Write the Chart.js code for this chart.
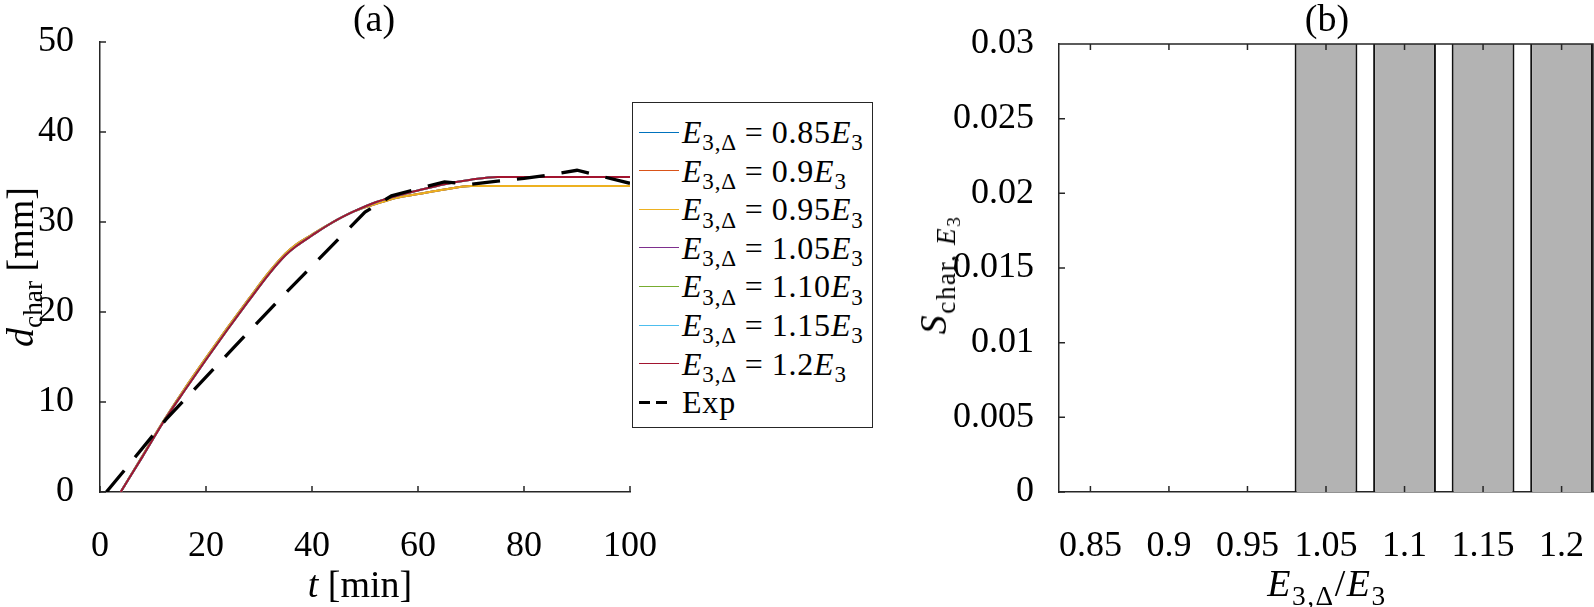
<!DOCTYPE html>
<html>
<head>
<meta charset="utf-8">
<title>Char depth and sensitivity</title>
<script src="https://cdn.jsdelivr.net/npm/chart.js@4.4.1/dist/chart.umd.min.js"></script>
<style>
  html, body { margin: 0; padding: 0; background: #fff; }
  body { width: 1594px; height: 607px; position: relative; overflow: hidden; font-family: "Liberation Serif", "Times New Roman", serif; color: #000; }
  .box { position: absolute; top: 0; height: 607px; }
  .lbl { position: absolute; white-space: nowrap; font-size: 38px; line-height: 1; transform: translate(-50%, -50%); }
  .rot { transform: translate(-50%, -50%) rotate(-90deg); }
  .wide { letter-spacing: 1.5px; }
  .s1 { font-size: 0.72em; position: relative; top: 0.32em; }
  .s2 { font-size: 0.72em; position: relative; top: 0.25em; }
  .eq { margin: 0 8px; }
  #legend { position: absolute; left: 632px; top: 102px; width: 241px; height: 326px; border: 1.5px solid #262626; background: #fff; box-sizing: border-box; }
  .row { position: absolute; left: 0; font-size: 32px; line-height: 1; letter-spacing: 0.8px; white-space: nowrap; transform: translateY(-50%); display: flex; align-items: center; }
  .swatch { display: inline-block; width: 40px; height: 0; margin: 0 3px 0 6px; }
  .dash { display: inline-block; width: 11px; height: 3px; background: #000; margin-right: 6px; }
</style>
</head>
<body>
<div class="box" style="left:0;width:660px;"><canvas id="chart-a" width="660" height="607"></canvas></div>
<div class="box" style="left:880px;width:714px;"><canvas id="chart-b" width="714" height="607"></canvas></div>

<div class="lbl" style="left:374px;top:18px;">(a)</div>
<div class="lbl" style="left:1327px;top:18px;">(b)</div>
<div class="lbl" style="left:360px;top:584px;"><i>t</i>&nbsp;[min]</div>
<div class="lbl wide" style="left:1327px;top:583px;"><i>E</i><span class="s1">3,Δ</span>/<i>E</i><span class="s1">3</span></div>
<div class="lbl rot" style="left:20px;top:267px;"><i>d</i><span class="s1">char</span>&nbsp;[mm]</div>
<div class="lbl rot wide" style="left:933px;top:275px;"><i>S</i><span class="s1">char,&nbsp;<i>E</i><span class="s2">3</span></span></div>
<div id="legend"></div>

<script>
// panel (a): simulated char depth, the two groups of runs overlap almost exactly
var tSim = [3.9, 8, 12, 16, 20, 24, 28, 32, 35, 37, 40, 44, 48, 52, 56, 60, 65, 70, 75, 100];
var dLow = [0, 4.0, 7.9, 11.5, 14.9, 18.2, 21.4, 24.5, 26.5, 27.5, 28.6, 30.0, 31.2, 32.0, 32.7, 33.1, 33.6, 34.0, 34.0, 34.0];
var dHigh = [0, 3.9, 7.8, 11.3, 14.7, 18.0, 21.2, 24.3, 26.3, 27.3, 28.5, 30.0, 31.2, 32.2, 32.9, 33.5, 34.2, 34.7, 35.0, 35.0];

// panel (a): experiment
var tExp = [1.2, 5, 12.5, 25, 35, 45, 50, 55, 60, 65, 70, 75, 80, 85, 90, 100];
var dExp = [0, 2.7, 8.1, 15.9, 22.1, 28.1, 31.1, 32.9, 33.7, 34.45, 34.2, 34.55, 34.85, 35.25, 35.75, 34.3];

var factorLabels = ["0.85", "0.9", "0.95", "1.05", "1.10", "1.15", "1.2"];
var factorColors = ["#0072BD", "#D95319", "#EDB120", "#7E2F8E", "#77AC30", "#4DBEEE", "#A2142F"];
var factorCurves = [dLow, dLow, dLow, dHigh, dHigh, dHigh, dHigh];

// panel (b): sensitivity per factor (upper four run past the 0.03 limit)
var ratioLabels = ["0.85", "0.9", "0.95", "1.05", "1.1", "1.15", "1.2"];
var sensValues = [0, 0, 0, 0.04, 0.04, 0.04, 0.04];
var sensTicks = [0, 0.005, 0.01, 0.015, 0.02, 0.025, 0.03];

var AXIS = "#262626";
var tickFont = { family: "'Liberation Serif', 'Times New Roman', serif", size: 36, lineHeight: 1 };

function toPoints(xs, ys) {
  return xs.map(function (x, i) { return { x: x, y: ys[i] }; });
}

// MATLAB style ticks pointing inside, optional closed box
var innerTicks = {
  id: "innerTicks",
  afterDraw: function (chart, args, opts) {
    var ctx = chart.ctx, a = chart.chartArea, len = 6;
    var xs = chart.scales.x, ys = chart.scales.y;
    ctx.save();
    ctx.strokeStyle = AXIS;
    ctx.lineWidth = 1.5;
    ctx.beginPath();
    xs.ticks.forEach(function (t) {
      var px = xs.getPixelForValue(t.value);
      ctx.moveTo(px, a.bottom); ctx.lineTo(px, a.bottom - len);
      if (opts.box) { ctx.moveTo(px, a.top); ctx.lineTo(px, a.top + len); }
    });
    ys.ticks.forEach(function (t) {
      var py = ys.getPixelForValue(t.value);
      ctx.moveTo(a.left, py); ctx.lineTo(a.left + len, py);
    });
    if (opts.box) {
      ctx.moveTo(a.left, a.top); ctx.lineTo(a.right, a.top); ctx.lineTo(a.right, a.bottom);
    }
    ctx.stroke();
    ctx.restore();
  }
};

function fitX(h) {
  return function (scale) { scale.height = h; scale.paddingLeft = 0; scale.paddingRight = 0; };
}
function fitY(w) {
  return function (scale) { scale.width = w; scale.paddingTop = 0; scale.paddingBottom = 0; };
}

// ---- panel (a); later series are drawn on top, as in the original
var lineSets = factorLabels.map(function (lab, i) {
  return {
    label: "E3,Δ = " + lab + "E3",
    data: toPoints(tSim, factorCurves[i]),
    borderColor: factorColors[i],
    borderWidth: 2,
    pointRadius: 0,
    cubicInterpolationMode: "monotone",
    fill: false,
    order: 20 - i
  };
});
lineSets.push({
  label: "Exp",
  data: toPoints(tExp, dExp),
  borderColor: "#000",
  borderWidth: 3.3,
  borderDash: [28, 17],
  pointRadius: 0,
  tension: 0,
  fill: false,
  order: 0
});

new Chart(document.getElementById("chart-a"), {
  type: "line",
  data: { datasets: lineSets },
  options: {
    responsive: false,
    animation: false,
    devicePixelRatio: 1,
    layout: { padding: { left: 0, right: 30, top: 42, bottom: 0 } },
    plugins: { legend: { display: false }, tooltip: { enabled: false }, innerTicks: { box: false } },
    scales: {
      x: {
        type: "linear", min: 0, max: 100,
        ticks: { stepSize: 20, font: tickFont, color: "#000", padding: 29, maxRotation: 0 },
        grid: { display: false },
        border: { display: true, color: AXIS, width: 1.5 },
        afterFit: fitX(115)
      },
      y: {
        type: "linear", min: 0, max: 50,
        ticks: { stepSize: 10, font: tickFont, color: "#000", padding: 18 },
        grid: { display: false },
        border: { display: true, color: AXIS, width: 1.5 },
        afterFit: fitY(100)
      }
    }
  },
  plugins: [innerTicks]
});

// ---- panel (b)
new Chart(document.getElementById("chart-b"), {
  type: "bar",
  data: {
    datasets: [{
      label: "S",
      data: toPoints(ratioLabels.map(function (_, i) { return i; }), sensValues),
      backgroundColor: "rgb(179,179,179)",
      borderColor: "#111",
      borderWidth: 2,
      barPercentage: 0.8,
      categoryPercentage: 1,
      clip: 0
    }]
  },
  options: {
    responsive: false,
    animation: false,
    devicePixelRatio: 1,
    layout: { padding: { left: 0, right: 1, top: 44, bottom: 0 } },
    plugins: { legend: { display: false }, tooltip: { enabled: false }, innerTicks: { box: true } },
    scales: {
      x: {
        type: "linear", min: -0.4, max: 6.4, offset: false,
        afterBuildTicks: function (scale) {
          scale.ticks = ratioLabels.map(function (_, i) { return { value: i }; });
        },
        ticks: {
          font: tickFont, color: "#000", padding: 29, maxRotation: 0, autoSkip: false,
          callback: function (v) { return ratioLabels[v]; }
        },
        grid: { display: false },
        border: { display: true, color: AXIS, width: 1.5 },
        afterFit: fitX(115)
      },
      y: {
        type: "linear", min: 0, max: 0.03,
        afterBuildTicks: function (scale) {
          scale.ticks = sensTicks.map(function (v) { return { value: v }; });
        },
        ticks: {
          font: tickFont, color: "#000", padding: 17,
          callback: function (v) { return String(+v.toFixed(3)); }
        },
        grid: { display: false },
        border: { display: true, color: AXIS, width: 1.5 },
        afterFit: fitY(179)
      }
    }
  },
  plugins: [innerTicks]
});

// legend with subscripts as html text
(function () {
  var legendEl = document.getElementById("legend");
  var html = "";
  factorLabels.forEach(function (lab, i) {
    html += '<div class="row" style="top:' + (29 + i * 38.6).toFixed(1) + 'px">' +
      '<span class="swatch" style="border-top:1.5px solid ' + factorColors[i] + '"></span>' +
      '<span><i>E</i><span class="s1">3,Δ</span><span class="eq">=</span>' + lab + '<i>E</i><span class="s1">3</span></span></div>';
  });
  html += '<div class="row" style="top:' + (29 + 7 * 38.6).toFixed(1) + 'px">' +
    '<span style="margin-left:6px;display:inline-flex;width:40px;margin-right:3px"><span class="dash"></span><span class="dash"></span></span>' +
    '<span>Exp</span></div>';
  legendEl.innerHTML = html;
})();
</script>
</body>
</html>
